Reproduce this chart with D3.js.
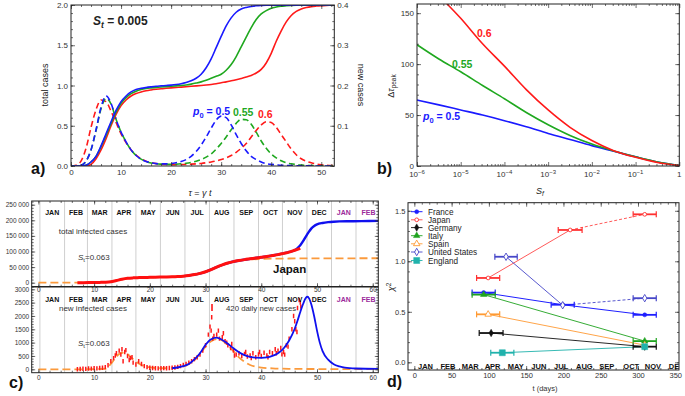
<!DOCTYPE html>
<html><head><meta charset="utf-8">
<script src="https://cdn.jsdelivr.net/npm/d3@7"></script>
<style>body{margin:0;background:#fff}</style>
</head><body><svg id="c" width="685" height="396"></svg>
<script>
// ---------------- DATA ----------------
// Panel a
const tauGrid = [0,1,2,3,4,5,6,7,8,9,10,11,12,13,14,15,16,17,18,19,20,21,22,23,24,25,26,27,28,29,30,31,32,33,34,35,36,37,38,39,40,41,42,43,44,45,46,47,48,49,50,51,52,53];
const totalBlue = [0,0,0,0.01,0.05,0.12,0.25,0.4,0.55,0.69, 0.8,0.87,0.92,0.95,0.965,0.975,0.983,0.99,0.995,1.0, 1.005,1.012,1.022,1.037,1.058,1.09,1.14,1.22,1.33,1.47, 1.61,1.74,1.84,1.91,1.95,1.97,1.982,1.99,1.994,1.996, 1.997,1.998,1.998,1.999,1.999,1.999,2,2,2,2, 2,2,2,2];
const totalGreen = [0,0,0,0.01,0.05,0.12,0.24,0.38,0.53,0.67, 0.78,0.85,0.9,0.93,0.95,0.962,0.97,0.977,0.982,0.986, 0.99,0.995,1.0,1.007,1.017,1.03,1.045,1.065,1.09,1.115, 1.14,1.19,1.26,1.36,1.48,1.6,1.72,1.82,1.89,1.93, 1.96,1.975,1.985,1.99,1.994,1.996,1.997,1.998,1.999,1.999, 2,2,2,2];
const totalRed = [0,0,0,0,0.02,0.09,0.2,0.34,0.5,0.64, 0.75,0.82,0.87,0.9,0.92,0.935,0.945,0.953,0.96,0.965, 0.97,0.975,0.98,0.985,0.99,0.995,1.0,1.006,1.013,1.022, 1.035,1.045,1.058,1.072,1.088,1.105,1.125,1.155,1.2,1.28, 1.4,1.55,1.68,1.79,1.87,1.92,1.95,1.968,1.98,1.987, 1.992,1.995,1.997,1.998];
const newBlue = [0,0,0.002,0.012,0.04,0.09,0.146,0.174,0.156,0.116, 0.084,0.06,0.04,0.026,0.017,0.011,0.008,0.006,0.0054,0.0054, 0.006,0.008,0.011,0.016,0.024,0.036,0.052,0.072,0.094,0.114, 0.124,0.12,0.102,0.078,0.056,0.038,0.024,0.016,0.01,0.006, 0.004,0.003,0.002,0.0014,0.001,0.0006,0.0004,0.0003,0.0002,0.0001, 0,0,0,0];
const newGreen = [0,0,0.002,0.012,0.04,0.088,0.142,0.168,0.154,0.116, 0.084,0.06,0.04,0.026,0.017,0.011,0.0076,0.0056,0.0046,0.004, 0.004,0.0044,0.0054,0.0068,0.009,0.012,0.016,0.022,0.03,0.042, 0.056,0.072,0.09,0.106,0.116,0.115,0.104,0.084,0.062,0.044, 0.03,0.02,0.013,0.008,0.0054,0.0036,0.0024,0.0016,0.001,0.0006, 0.0004,0.0002,0,0];
const newRed = [0,0.002,0.012,0.044,0.096,0.14,0.164,0.16,0.136,0.108, 0.08,0.058,0.04,0.027,0.018,0.012,0.0084,0.006,0.0046,0.0038, 0.0034,0.0034,0.0036,0.004,0.0046,0.0054,0.0064,0.008,0.01,0.0126, 0.016,0.02,0.026,0.034,0.044,0.056,0.072,0.088,0.102,0.11, 0.108,0.096,0.078,0.06,0.042,0.028,0.018,0.012,0.008,0.005, 0.0032,0.002,0.0012,0.0008];

// Panel b
const sfGrid = [1e-6,3.162e-6,1e-5,3.162e-5,1e-4,3.162e-4,1e-3,3.162e-3,1e-2,3.162e-2,0.1,0.3162,1];
const dtBlue  = [64.8,60,55,50,44.5,38.5,32,26,20,14.5,9,4,0.5];
const dtGreen = [119,105,92.5,79,66,52.5,40.5,30,21.5,14.8,9,4,0.5];
const dtRed   = [195,168,145,120,98,75,55,38,25,15,8.5,3.5,0.5];

// Panel c
const monthsC = ["JAN","FEB","MAR","APR","MAY","JUN","JUL","AUG","SEP","OCT","NOV","DEC","JAN","FEB"];
const monthStartsC = [0.27,4.7,8.8,13.2,17.5,21.9,26.3,30.7,35.1,39.5,43.8,48.2,52.6,57.0,61.5];
const topRedWeeks = [7,8,9,10,11,12,13,14,15,16,17,18,19,20,21,22,23,24,25,26,27,28,29,30,31,32,33,34,35,36,37,38,39,40,41,42,43,44,45,46,47];
const topRed = [0,200,400,700,1000,1500,3000,7000,11000,14000,15500,16300,16800,17200,17600,18000,18500,19000,19800,21000,23000,26000,30000,35000,42000,50000,57000,63000,67500,71000,74000,76500,79000,81500,84000,87000,90000,94000,98000,104000,110000];
const topBlueWeeks = [26,28,30,32,34,36,38,40,42,44,45,46,46.5,47,47.5,48,48.5,49,49.5,50,51,52,53,54,56,58,61];
const topBlue = [21000,26000,35000,50000,63000,71000,76500,81500,87000,94000,98500,104000,111000,120000,133000,148000,162000,174000,182000,187000,191500,194000,195500,196500,197000,197500,198000];
const topOrangeWeeks = [0,7,10,12,13,14,15,16,17,18,20,22,24,26,28,30,32,34,36,38,40,42,45,50,55,61];
const topOrange = [0,0,700,1500,3000,7000,11000,14000,15500,16300,17200,18000,19000,21000,26000,35000,50000,63000,71000,74500,76000,77000,77500,78000,78200,78400];
const botOrangeWeeks = [0,7,12,13,14,15,16,17,18,19,20,22,24,26,27,28,29,30,31,32,33,34,35,36,37,38,39,40,42,45,50,61];
const botOrange = [0,0,20,200,480,620,560,380,220,120,70,40,50,110,200,350,580,850,1050,1130,1080,900,680,450,280,160,100,65,35,18,10,5];
const botBlueWeeks = [24,26,27,28,29,30,31,32,33,34,35,36,37,38,39,40,41,42,43,44,45,46,46.5,47,47.5,48,48.3,48.6,49,49.5,50,50.5,51,52,53,54,55,57,61];
const botBlue = [40,120,200,370,600,920,1130,1190,1100,960,790,640,530,465,435,430,445,500,600,780,1080,1520,1820,2150,2450,2680,2720,2650,2420,1980,1450,1000,680,360,190,110,60,30,15];
const dailyNew = [[7,0],[7.5,10],[8,20],[8.5,15],[9,30],[9.5,25],[10,40],[10.5,35],[11,50],[11.5,60],[12,80],[12.5,150],[13,300],[13.5,420],[14,600],[14.5,700],[15,750],[15.5,650],[16,500],[16.5,420],[17,250],[17.5,180],[18,300],[18.5,200],[19,120],[19.5,80],[20,60],[20.5,50],[21,40],[21.5,35],[22,40],[22.5,45],[23,40],[23.5,50],[24,60],[24.5,70],[25,90],[25.5,120],[26,160],[26.5,200],[27,250],[27.5,300],[28,380],[28.5,450],[29,550],[29.5,700],[30,900],[30.5,1300],[31,1450],[31.5,1250],[32,1300],[32.5,1150],[33,1200],[33.5,1050],[34,900],[34.5,800],[35,700],[35.5,550],[36,600],[36.5,500],[37,580],[37.5,480],[38,520],[38.5,600],[39,450],[39.5,560],[40,500],[40.5,620],[41,520],[41.5,650],[42,600],[42.5,750],[43,700],[43.5,800],[44,650],[44.5,900],[45,1150],[45.5,1500],[46,1800],[46.5,2300],[47,2500]];
const dailyExtra = [[13.8,520],[14.8,550],[15.2,300],[15.7,720],[16.3,350],[16.8,450],[30.8,1600],[31.1,1950],[31.3,1150],[32.3,1450],[33.2,1350],[33.8,1000],[34.7,950],[35.2,520],[37.2,650],[38.2,420],[39.7,650],[41.2,450],[42.7,600],[43.7,560],[44.2,550],[44.8,850],[45.8,2000],[46.2,1500],[46.4,1400],[46.8,2600],[47.1,2350]];

// Panel d
const monthsD = ["JAN","FEB","MAR","APR","MAY","JUN","JUL","AUG","SEP","OCT","NOV","DEC"];
const monthDaysD = [15,45,75,105,136,167,197,228,258,291,320,352];
const franceDays = [93,199,309], franceChi = [0.69,0.57,0.47], franceErr = [15.5,15.5,15.5];
const japanDays = [99,209,309], japanChi = [0.835,1.31,1.465], japanErr = [15.5,16,15.5];
const germanyDays = [103,309], germanyChi = [0.29,0.155], germanyErr = [16,15.5];
const italyDays = [93,309], italyChi = [0.67,0.21], italyErr = [15.5,15.5];
const spainDays = [99,309], spainChi = [0.475,0.17], spainErr = [15.5,0];
const usDays = [123,199,309], usChi = [1.045,0.565,0.635], usErr = [15,0,15.5];
const englandDays = [118,309], englandChi = [0.095,0.155], englandErr = [15.5,0];

// ---------------- HELPERS ----------------
const FONT = "'Liberation Sans', Arial, Helvetica, sans-serif";
const svg = d3.select("#c");
svg.append("rect").attr("width",685).attr("height",396).attr("fill","#fff");
const BLUE="#1a1aff", GREEN="#1fa81f", RED="#ff1a1a", ORANGE="#fb9a3c";

function styleAxis(gg, fs){
  gg.select(".domain").remove();
  gg.selectAll("line").attr("stroke","#333").attr("stroke-width",0.7);
  gg.selectAll("text").attr("font-family",FONT).attr("font-size",fs).attr("fill","#333");
}
function axis(g, gen, scale, major, minor, tr, fmt, fs, majLen=4, minLen=2, pad=3){
  if (minor && minor.length){
    const m = g.append("g").attr("transform",tr)
      .call(gen(scale).tickValues(minor).tickSizeInner(-minLen).tickSizeOuter(0).tickFormat(()=>""));
    styleAxis(m, fs);
  }
  const a = gen(scale).tickValues(major).tickSizeInner(-majLen).tickSizeOuter(0).tickPadding(pad).tickFormat(fmt);
  const M = g.append("g").attr("transform",tr).call(a);
  styleAxis(M, fs);
  return M;
}
const none = ()=>"";
function frame(g,x0,y0,x1,y1,sw){
  g.append("rect").attr("x",x0).attr("y",y0).attr("width",x1-x0).attr("height",y1-y0)
   .attr("fill","none").attr("stroke","#222").attr("stroke-width",sw||1);
}
function clip(id,x0,y0,x1,y1){
  svg.append("clipPath").attr("id",id).append("rect").attr("x",x0).attr("y",y0).attr("width",x1-x0).attr("height",y1-y0);
}
function txt(g,x,y,s,fs,opt={}){
  return g.append("text").attr("x",x).attr("y",y).text(s).attr("font-family",FONT).attr("font-size",fs)
    .attr("fill",opt.fill||"#222").attr("font-weight",opt.bold?"bold":"normal")
    .attr("text-anchor",opt.anchor||"start").attr("font-style",opt.italic?"italic":"normal");
}

// ---------------- PANEL A ----------------
const gA = svg.append("g");
const xa = d3.scaleLinear().domain([0,52.6]).range([71,334.3]);
const yaL = d3.scaleLinear().domain([0,2]).range([166,5]);
const yaR = d3.scaleLinear().domain([0,0.4]).range([166,5]);
clip("clipA",71,5,334.3,166);
const gAc = gA.append("g").attr("clip-path","url(#clipA)");
const lineL = d3.line().x((d,i)=>xa(tauGrid[i])).y(d=>yaL(d)).curve(d3.curveMonotoneX);
const lineR = d3.line().x((d,i)=>xa(tauGrid[i])).y(d=>yaR(d)).curve(d3.curveMonotoneX);
[[newRed,RED],[newGreen,GREEN],[newBlue,BLUE]].forEach(([d,c])=>{
  gAc.append("path").attr("d",lineR(d)).attr("fill","none").attr("stroke",c).attr("stroke-width",1.6).attr("stroke-dasharray","6,3.5");
});
[[totalRed,RED],[totalGreen,GREEN],[totalBlue,BLUE]].forEach(([d,c])=>{
  gAc.append("path").attr("d",lineL(d)).attr("fill","none").attr("stroke",c).attr("stroke-width",1.6);
});
axis(gA,d3.axisBottom,xa,[0,10,20,30,40,50],d3.range(0,53,2),"translate(0,166)",d3.format("d"),8);
axis(gA,d3.axisTop,xa,[0,10,20,30,40,50],d3.range(0,53,2),"translate(0,5)",none,8);
axis(gA,d3.axisLeft,yaL,[0,0.5,1,1.5,2],d3.range(0,2.001,0.1),"translate(71,0)",d3.format(".1f"),8);
axis(gA,d3.axisRight,yaR,[0,0.1,0.2,0.3,0.4],d3.range(0,0.4001,0.02),"translate(334.3,0)",d=>d===0?"":d3.format(".1f")(d),8);
frame(gA,71,5,334.3,166);
{
  txt(gA,0,0,"total cases",9,{anchor:"middle"}).attr("transform","translate(48,85) rotate(-90)");
  txt(gA,0,0,"new cases",9,{anchor:"middle"}).attr("transform","translate(358,85) rotate(90)");
  const xl = txt(gA,200,196,"",9,{anchor:"middle"});
  xl.append("tspan").attr("font-style","italic").text("τ");
  xl.append("tspan").text(" = ");
  xl.append("tspan").attr("font-style","italic").text("γ t");
  const st = txt(gA,93,25,"",12,{bold:true});
  st.append("tspan").attr("font-style","italic").text("S");
  st.append("tspan").attr("font-size",8.5).attr("dy",3).attr("font-style","italic").text("t");
  st.append("tspan").attr("dy",-3).text(" = 0.005");
  const p = txt(gA,193,115,"",10.5,{bold:true,fill:BLUE});
  p.append("tspan").attr("font-style","italic").text("p");
  p.append("tspan").attr("font-size",7.5).attr("dy",2.5).text("0");
  p.append("tspan").attr("dy",-2.5).text(" = 0.5");
  txt(gA,233,116,"0.55",10.5,{bold:true,fill:GREEN});
  txt(gA,258,117.5,"0.6",10.5,{bold:true,fill:RED});
  txt(gA,31,174,"a)",16,{bold:true,fill:"#111"});
}

// ---------------- PANEL B ----------------
const gB = svg.append("g");
const xb = d3.scaleLog().domain([1e-6,1]).range([417,679.3]);
const yb = d3.scaleLinear().domain([0,159]).range([166,4]);
clip("clipB",417,4,679.3,166);
const gBc = gB.append("g").attr("clip-path","url(#clipB)");
const lineB = d3.line().x((d,i)=>xb(sfGrid[i])).y(d=>yb(d)).curve(d3.curveMonotoneX);
[[dtBlue,BLUE],[dtGreen,GREEN],[dtRed,RED]].forEach(([d,c])=>{
  gBc.append("path").attr("d",lineB(d)).attr("fill","none").attr("stroke",c).attr("stroke-width",1.6);
});
const bMajor = [1e-6,1e-5,1e-4,1e-3,1e-2,1e-1,1];
const bMinor = [];
for (let k=-6;k<0;k++) for (let m=2;m<10;m++) bMinor.push(m*Math.pow(10,k));
axis(gB,d3.axisBottom,xb,bMajor,bMinor,"translate(0,166)",none,8);
axis(gB,d3.axisTop,xb,bMajor,bMinor,"translate(0,4)",none,8);
axis(gB,d3.axisLeft,yb,[0,50,100,150],d3.range(0,159,10),"translate(417,0)",d3.format("d"),8);
axis(gB,d3.axisRight,yb,[0,50,100,150],d3.range(0,159,10),"translate(679.3,0)",none,8);
frame(gB,417,4,679.3,166);
bMajor.forEach(v=>{
  const e = Math.round(Math.log10(v));
  const t = txt(gB,xb(v),177,"",8,{anchor:"middle",fill:"#333"});
  if (e===0) t.text("1");
  else { t.append("tspan").text("10"); t.append("tspan").attr("font-size",6).attr("dy",-3.5).text("−"+(-e)); }
});
{
  const xl = txt(gB,540,194,"",9,{anchor:"middle"});
  xl.append("tspan").attr("font-style","italic").text("S");
  xl.append("tspan").attr("font-size",6.5).attr("dy",2).attr("font-style","italic").text("f");
  const yl = txt(gB,0,0,"",9,{anchor:"middle"}).attr("transform","translate(394,86) rotate(-90)");
  yl.append("tspan").text("Δ");
  yl.append("tspan").attr("font-style","italic").text("τ");
  yl.append("tspan").attr("font-size",6.5).attr("dy",2).text("peak");
  txt(gB,477,36.5,"0.6",10.5,{bold:true,fill:RED});
  txt(gB,452,68,"0.55",10.5,{bold:true,fill:GREEN});
  const p = txt(gB,423,120,"",10.5,{bold:true,fill:BLUE});
  p.append("tspan").attr("font-style","italic").text("p");
  p.append("tspan").attr("font-size",7.5).attr("dy",2.5).text("0");
  p.append("tspan").attr("dy",-2.5).text(" = 0.5");
  txt(gB,377,174,"b)",16,{bold:true,fill:"#111"});
}

// ---------------- PANEL C ----------------
const gC = svg.append("g");
const xc = d3.scaleLinear().domain([-1.2,61]).range([31.7,378.3]);
const ycT = d3.scaleLinear().domain([0,250000]).range([282.7,204.7]);
const ycB = d3.scaleLinear().domain([0,3000]).range([369.3,289.3]);
clip("clipCT",31.7,201,378.3,286.7);
clip("clipCB",31.7,286.7,378.3,372.7);
const gCT = gC.append("g").attr("clip-path","url(#clipCT)");
const gCB = gC.append("g").attr("clip-path","url(#clipCB)");
monthStartsC.slice(0,14).forEach(w=>{
  gCT.append("line").attr("x1",xc(w)).attr("x2",xc(w)).attr("y1",201).attr("y2",286.7).attr("stroke","#cfcfcf").attr("stroke-width",1);
  gCB.append("line").attr("x1",xc(w)).attr("x2",xc(w)).attr("y1",286.7).attr("y2",372.7).attr("stroke","#cfcfcf").attr("stroke-width",1);
});
const lineXY = (xs,sx,sy)=>d3.line().x((d,i)=>sx(xs[i])).y(d=>sy(d)).curve(d3.curveMonotoneX);
gCT.append("path").attr("d",lineXY(topOrangeWeeks,xc,ycT)(topOrange)).attr("fill","none").attr("stroke",ORANGE).attr("stroke-width",1.8).attr("stroke-dasharray","8,4");
gCT.append("path").attr("d",lineXY(topBlueWeeks,xc,ycT)(topBlue)).attr("fill","none").attr("stroke","#1010ee").attr("stroke-width",2.4);
gCT.append("path").attr("d",lineXY(topRedWeeks,xc,ycT)(topRed)).attr("fill","none").attr("stroke","#ff1010").attr("stroke-width",3);
gCB.append("path").attr("d",lineXY(botOrangeWeeks,xc,ycB)(botOrange)).attr("fill","none").attr("stroke",ORANGE).attr("stroke-width",1.8).attr("stroke-dasharray","8,4");
gCB.selectAll("line.pt").data(dailyNew.concat(dailyExtra)).join("line").attr("class","pt")
  .attr("x1",d=>xc(d[0])).attr("x2",d=>xc(d[0])).attr("y1",d=>ycB(d[1])-2.2).attr("y2",d=>ycB(d[1])+2.2)
  .attr("stroke","#ff1a1a").attr("stroke-width",1.5);
gCB.append("path").attr("d",lineXY(botBlueWeeks,xc,ycB)(botBlue)).attr("fill","none").attr("stroke","#1010ee").attr("stroke-width",1.8);
const fmtK = d=>d===0?"0":d3.format(",")(d).replace(/,/g," ");
const xcMaj = [0,10,20,30,40,50,60], xcMin = d3.range(0,61,2);
axis(gC,d3.axisLeft,ycT,[0,50000,100000,150000,200000,250000],d3.range(0,260001,10000),"translate(31.7,0)",fmtK,6.5,3.5,2,2.5);
axis(gC,d3.axisRight,ycT,[0,50000,100000,150000,200000,250000],d3.range(0,260001,10000),"translate(378.3,0)",none,6.5,3.5,2);
axis(gC,d3.axisTop,xc,xcMaj,xcMin,"translate(0,201)",none,6.5,3.5,2);
axis(gC,d3.axisBottom,xc,xcMaj,xcMin,"translate(0,286.7)",d3.format("d"),6.5,3.5,2,1);
axis(gC,d3.axisLeft,ycB,[0,500,1000,1500,2000,2500,3000],d3.range(0,3101,100),"translate(31.7,0)",d3.format("d"),6.5,3.5,2,2.5);
axis(gC,d3.axisRight,ycB,[0,500,1000,1500,2000,2500,3000],d3.range(0,3101,100),"translate(378.3,0)",none,6.5,3.5,2);
axis(gC,d3.axisBottom,xc,xcMaj,xcMin,"translate(0,372.7)",d3.format("d"),6.5,3.5,2,3);
frame(gC,31.7,201,378.3,372.7);
gC.append("line").attr("x1",31.7).attr("x2",378.3).attr("y1",286.7).attr("y2",286.7).attr("stroke","#222").attr("stroke-width",1.4);
monthsC.forEach((m,i)=>{
  const cx = xc((monthStartsC[i]+monthStartsC[i+1])/2);
  const col = i>=12 ? "#9b2a9b" : "#111";
  txt(gC,cx,215,m,7,{bold:true,anchor:"middle",fill:col});
  txt(gC,cx,301.5,m,7,{bold:true,anchor:"middle",fill:col});
});
{
  txt(gC,93,234,"total infected cases",8,{anchor:"middle",fill:"#333"});
  const s1 = txt(gC,78,259.5,"",8,{fill:"#333"});
  s1.append("tspan").attr("font-style","italic").text("S"); s1.append("tspan").attr("font-size",6).attr("dy",2).text("t"); s1.append("tspan").attr("dy",-2).text("=0.063");
  txt(gC,273,272.5,"Japan",11.5,{bold:true,fill:"#111"});
  txt(gC,93,311,"new infected cases",8,{anchor:"middle",fill:"#333"});
  const s2 = txt(gC,78,346,"",8,{fill:"#333"});
  s2.append("tspan").attr("font-style","italic").text("S"); s2.append("tspan").attr("font-size",6).attr("dy",2).text("t"); s2.append("tspan").attr("dy",-2).text("=0.063");
  gC.append("line").attr("x1",212).attr("x2",212).attr("y1",304).attr("y2",311).attr("stroke","#ff1a1a").attr("stroke-width",1.6);
  txt(gC,226,311,"420 daily new cases",7.8,{fill:"#333"});
  txt(gC,9,388,"c)",16,{bold:true,fill:"#111"});
}

// ---------------- PANEL D ----------------
const gD = svg.append("g");
const xd = d3.scaleLinear().domain([-8.5,355]).range([408,679]);
const yd = d3.scaleLinear().domain([-0.076,1.58]).range([370,202.7]);
const seriesD = [
  {name:"France", days:franceDays, chi:franceChi, err:franceErr, color:"#1f1fff", sym:"circle", fill:true, dashLast:false, lw:1, size:13},
  {name:"Japan", days:japanDays, chi:japanChi, err:japanErr, color:"#ff3030", sym:"circle", fill:false, dashLast:true, lw:0.8, size:11},
  {name:"Germany", days:germanyDays, chi:germanyChi, err:germanyErr, color:"#111", sym:"diamond", fill:true, dashLast:false, lw:0.9, size:16},
  {name:"Italy", days:italyDays, chi:italyChi, err:italyErr, color:"#1fa31f", sym:"tri", fill:true, dashLast:false, lw:0.9, size:18},
  {name:"Spain", days:spainDays, chi:spainChi, err:spainErr, color:"#ff9a33", sym:"tri", fill:false, dashLast:false, lw:0.9, size:18},
  {name:"United States", days:usDays, chi:usChi, err:usErr, color:"#4646c8", sym:"diamond", fill:false, dashLast:true, lw:0.9, size:16},
  {name:"England", days:englandDays, chi:englandChi, err:englandErr, color:"#20b2ac", sym:"square", fill:true, dashLast:false, lw:0.9, size:36}
];
const symMap = {circle:d3.symbolCircle, tri:d3.symbolTriangle, diamond:d3.symbolDiamond, square:d3.symbolSquare};
function marker(g,s,x,y){
  g.append("path").attr("d",d3.symbol().type(symMap[s.sym]).size(s.size)())
   .attr("transform",`translate(${x},${y})`)
   .attr("fill",s.fill?s.color:"#fff").attr("stroke",s.color).attr("stroke-width",s.fill?0.5:0.9);
}
seriesD.forEach(s=>{
  for (let i=0;i<s.days.length-1;i++){
    const dashed = s.dashLast && i===s.days.length-2;
    gD.append("line").attr("x1",xd(s.days[i])).attr("y1",yd(s.chi[i])).attr("x2",xd(s.days[i+1])).attr("y2",yd(s.chi[i+1]))
      .attr("stroke",s.color).attr("stroke-width",s.lw).attr("stroke-dasharray",dashed?"3,2":null);
  }
});
seriesD.forEach(s=>{
  s.days.forEach((d,i)=>{
    const e = s.err[i]; if (!e) return;
    const y = yd(s.chi[i]);
    gD.append("line").attr("x1",xd(d-e)).attr("x2",xd(d+e)).attr("y1",y).attr("y2",y).attr("stroke",s.color).attr("stroke-width",1.8);
    [d-e,d+e].forEach(v=>gD.append("line").attr("x1",xd(v)).attr("x2",xd(v)).attr("y1",y-3).attr("y2",y+3).attr("stroke",s.color).attr("stroke-width",1.2));
  });
});
seriesD.forEach(s=>s.days.forEach((d,i)=>marker(gD,s,xd(d),yd(s.chi[i]))));
axis(gD,d3.axisLeft,yd,[0,0.5,1,1.5],d3.range(0,1.58,0.1),"translate(408,0)",d3.format(".1f"),7.5,4,2,2.5);
axis(gD,d3.axisRight,yd,[0,0.5,1,1.5],d3.range(0,1.58,0.1),"translate(679,0)",none,7.5,4,2);
axis(gD,d3.axisBottom,xd,[0,50,100,150,200,250,300,350],d3.range(0,356,10),"translate(0,370)",d3.format("d"),7.5,4,2,3);
axis(gD,d3.axisTop,xd,[0,50,100,150,200,250,300,350],d3.range(0,356,10),"translate(0,202.7)",none,7.5,4,2);
frame(gD,408,202.7,679,370);
clip("clipD",408,202.7,679,370);
const gDm = gD.append("g").attr("clip-path","url(#clipD)");
monthsD.forEach((m,i)=>txt(gDm,xd(monthDaysD[i]),368.5,m,7.5,{bold:true,anchor:"middle",fill:"#111"}));
const legY = [211.7,219.8,227.6,235.7,243.8,252,260.5];
seriesD.forEach((s,i)=>{
  gD.append("line").attr("x1",411).attr("x2",422.5).attr("y1",legY[i]).attr("y2",legY[i]).attr("stroke",s.color).attr("stroke-width",s.lw);
  marker(gD,s,416.7,legY[i]);
  txt(gD,428,legY[i]+3,s.name,8.2,{fill:"#222"});
});
{
  const yl = txt(gD,0,0,"",9,{anchor:"middle"}).attr("transform","translate(394,287) rotate(-90)");
  yl.append("tspan").attr("font-style","italic").text("χ");
  yl.append("tspan").attr("font-size",6.5).attr("dy",-3.5).text("2");
  txt(gD,545,391,"t (days)",7.5,{anchor:"middle",fill:"#333"});
  txt(gD,387,387,"d)",16,{bold:true,fill:"#111"});
}
</script></body></html>
